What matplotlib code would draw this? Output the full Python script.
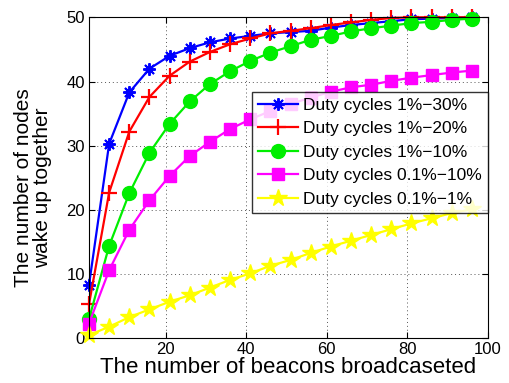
import matplotlib
matplotlib.use("Agg")
import matplotlib.pyplot as plt

# number of beacons broadcasted (1:5:96)
beacons = [1, 6, 11, 16, 21, 26, 31, 36, 41, 46, 51, 56, 61, 66, 71, 76, 81, 86, 91, 96]

dc_1_30 = [8.3, 30.3, 38.3, 42.0, 44.0, 45.2, 46.1, 46.7, 47.1, 47.5, 47.7, 47.9, 48.4,
           48.8, 49.1, 49.4, 49.7, 49.8, 49.9, 50.0]
dc_1_20 = [5.3, 22.7, 32.2, 37.6, 40.9, 43.1, 44.6, 45.8, 46.7, 47.5, 47.9, 48.3, 48.8,
           49.2, 49.6, 49.9, 50.0, 50.0, 50.0, 50.0]
dc_1_10 = [3.0, 14.4, 22.6, 28.9, 33.4, 36.9, 39.6, 41.6, 43.2, 44.5, 45.5, 46.5, 47.1,
           47.8, 48.3, 48.7, 49.1, 49.3, 49.6, 49.8]
dc_01_10 = [2.3, 10.6, 16.9, 21.5, 25.3, 28.4, 30.6, 32.6, 34.1, 35.4, 36.5, 37.5, 38.4,
            39.1, 39.5, 40.1, 40.6, 41.0, 41.4, 41.7]
dc_01_1 = [0.5, 1.8, 3.3, 4.5, 5.7, 6.7, 7.9, 9.1, 10.1, 11.3, 12.2, 13.3, 14.3, 15.2,
           16.1, 17.0, 17.9, 18.7, 19.5, 20.1]

labels = ["Duty cycles 1%\u221230%", "Duty cycles 1%\u221220%", "Duty cycles 1%\u221210%",
          "Duty cycles 0.1%\u221210%", "Duty cycles 0.1%\u22121%"]

plt.rcParams["font.family"] = ["Liberation Sans", "DejaVu Sans"]

fig = plt.figure(figsize=(5.1, 3.83), dpi=100)
ax = fig.add_axes([0.1745, 0.1167, 0.7825, 0.8381])

# colour, marker, size, edge width
styles = [
    ("#0000ff", (8, 2, 0), 9, 1.4),
    ("#ff0000", "+", 11, 1.6),
    ("#00ee00", "o", 10, 1.0),
    ("#ff00ff", "s", 9, 1.0),
    ("#ffff00", "*", 13, 1.0),
]
series = [dc_1_30, dc_1_20, dc_1_10, dc_01_10, dc_01_1]
for ys, lab, (col, mk, ms, mew) in zip(series, labels, styles):
    ax.plot(beacons, ys, color=col, marker=mk, markersize=ms, markeredgewidth=mew,
            markeredgecolor=col, markerfacecolor=col, linewidth=1.6, label=lab,
            clip_on=False)

ax.set_xlim(1, 100)
ax.set_ylim(0, 50)
ax.set_xticks([20, 40, 60, 80, 100])
ax.set_yticks([0, 10, 20, 30, 40, 50])
ax.tick_params(direction="in", top=True, right=True, labelsize=12, length=4, pad=3)
ax.grid(True, linestyle=(0, (1, 3)), color="#555555", linewidth=0.7)
ax.set_xlabel("The number of beacons broadcaseted", fontsize=16, labelpad=0)
ax.set_ylabel("The number of nodes\nwake up together", fontsize=15, linespacing=1.0)
ax.yaxis.set_label_coords(-0.092, 0.47)
for sp in ax.spines.values():
    sp.set_linewidth(0.8)

leg = ax.legend(loc="upper right", bbox_to_anchor=(1.0, 0.768), fontsize=12.5,
                frameon=True, fancybox=False, edgecolor="black", handlelength=2.3,
                borderpad=0.35, labelspacing=0.48, handletextpad=0.3, borderaxespad=0)
leg.get_frame().set_linewidth(1.0)

fig.savefig("out.png", dpi=100)
